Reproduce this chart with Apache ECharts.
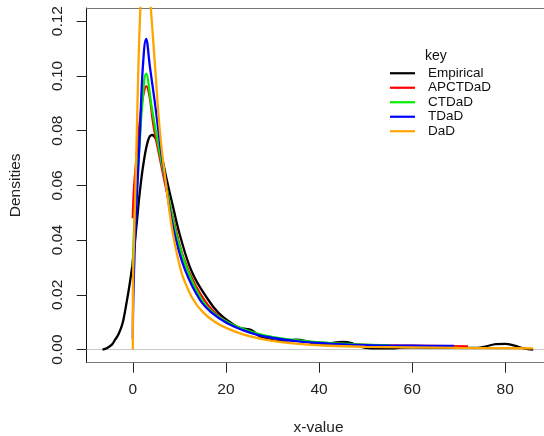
<!DOCTYPE html>
<html><head><meta charset="utf-8">
<script src="https://cdn.jsdelivr.net/npm/echarts@6/dist/echarts.min.js"></script>
<style>html,body{margin:0;padding:0;background:#fff}#c{width:544px;height:436px}</style>
</head><body><div id="c"></div>
<script>
const seriesNames = ['Empirical','APCTDaD','CTDaD','TDaD','DaD'];
const seriesColors = ['#000000','#ff0000','#00ee00','#0000ff','#ffa500'];
const xTicks = [0,20,40,60,80];
const yTicks = [0,0.02,0.04,0.06,0.08,0.10,0.12];

const empX = [-6.5,-5.5,-4.5,-3.8,-3.1,-2.4,-2.0,-1.3,-0.8,-0.2,0.2,0.9,1.5,2.3,3.3,4.1,5.1,6.2,7.3,8.6,10.2,12.8,16.2,18.4,20.9,22.8,24.6,25.8,27.3,29,31,33,35,37,39,41,43,45,47,48.5,50,53,55.5,57.5,60,70,74,76,78,80,82,84,86];
const empY = [0,0.0006,0.0018,0.0036,0.0055,0.0085,0.011,0.0175,0.0225,0.0295,0.0355,0.047,0.0575,0.068,0.0765,0.0784,0.0765,0.0705,0.062,0.0525,0.0413,0.028,0.0182,0.0134,0.0100,0.0080,0.0075,0.0068,0.0048,0.0038,0.0032,0.0033,0.0036,0.0032,0.0022,0.002,0.0024,0.0028,0.0024,0.0012,0.0006,0.0004,0.0004,0.0007,0.0008,0.0006,0.0006,0.0012,0.002,0.0021,0.0014,0.0004,0];

const apcX = [0,0.28,0.86,1.57,2.2,2.9,3.6,4.43,5.86,7.2,8.8,10.9,13.6,17,20.5,23.5,27,30,35,42,50,60,72];
const apcY = [0.048,0.0595,0.071,0.0845,0.0925,0.0962,0.0925,0.082,0.0695,0.0585,0.047,0.0335,0.023,0.0145,0.0098,0.0073,0.0054,0.0044,0.0033,0.0023,0.0017,0.0014,0.0012];

const ctX = [0,0.3,0.8,1.43,1.93,2.86,4.07,5.5,7.0,8.15,9.45,11.7,14.8,17.3,20.9,24,28,33,42,50,55];
const ctY = [0.03,0.045,0.060,0.074,0.0875,0.1008,0.0885,0.0745,0.0615,0.0515,0.0413,0.0292,0.0182,0.0134,0.0095,0.0073,0.0053,0.0038,0.0024,0.0018,0.0016];

const tX = [0,0.1,0.4,0.8,1.2,1.57,2.15,2.86,3.7,4.8,5.86,7.0,8.0,9.1,11.2,14.4,17.0,20.2,23.5,27,30,35,42,50,60,69];
const tY = [0.004,0.018,0.036,0.053,0.067,0.081,0.103,0.1135,0.103,0.0895,0.0752,0.0617,0.0507,0.0413,0.0292,0.0182,0.0134,0.0097,0.0072,0.0053,0.0043,0.0031,0.0022,0.0016,0.0014,0.0013];

const dX = [0,0.03,0.3,0.5,0.86,1.2,1.64,2.1,2.7,3.3,3.86,4.8,5.86,7.3,8.6,10.16,11.0,13.0,15.2,18.0,20.9,25.2,30,35,42,50,60,70,80,86];
const dY = [0,0.022,0.042,0.055,0.079,0.103,0.125,0.137,0.14,0.135,0.125,0.103,0.079,0.058,0.0425,0.030,0.0255,0.0182,0.0134,0.0097,0.0073,0.0048,0.0032,0.0022,0.0014,0.001,0.0008,0.0006,0.0005,0.0004];

const allX = [empX, apcX, ctX, tX, dX];
const allY = [empY, apcY, ctY, tY, dY];

const FONT = "'Liberation Sans', Arial, sans-serif";
const chart = echarts.init(document.getElementById('c'), null, {renderer:'canvas'});

const series = seriesNames.map((name, i) => ({
  name, type: 'line', symbol: 'none', smooth: 0.4,
  data: allX[i].map((x, j) => [x, allY[i][j]]),
  lineStyle: {color: seriesColors[i], width: 2.3},
  itemStyle: {color: seriesColors[i]},
  z: 3 + i,
  markLine: i === 0 ? {silent: true, symbol: 'none', label: {show: false},
    lineStyle: {color: '#c8c8c8', type: 'solid', width: 1.2}, z: 1,
    data: [{yAxis: 0}]} : undefined
}));

chart.setOption({
  animation: false,
  backgroundColor: '#fff',
  title: {text: 'key', left: 425, top: 49, padding: 0,
    textStyle: {fontFamily: FONT, fontSize: 14, fontWeight: 'normal', color: '#111'}},
  legend: {
    orient: 'vertical', left: 390, top: 66, itemGap: 0, padding: 0,
    icon: 'rect', itemWidth: 25, itemHeight: 2.2,
    data: seriesNames,
    textStyle: {fontFamily: FONT, fontSize: 13.5, color: '#111', lineHeight: 14.5, padding: [0,0,0,8]}
  },
  grid: {left: 86.7, top: 8, width: 463.7, height: 354.7, outerBoundsMode: 'none', containLabel: false},
  xAxis: [{
    type: 'value', min: -9.9, max: 89.7, position: 'bottom',
    name: 'x-value', nameLocation: 'middle', nameGap: 57,
    nameTextStyle: {fontFamily: FONT, fontSize: 15.5, color: '#222'},
    axisLine: {show: true, onZero: false, lineStyle: {color: '#777', width: 1}},
    axisTick: {show: true, inside: false, length: 10, customValues: xTicks, lineStyle: {color: '#222'}},
    axisLabel: {show: true, margin: 19, customValues: xTicks, fontFamily: FONT, fontSize: 15.5, color: '#222',
      formatter: v => String(v)},
    splitLine: {show: false}
  }, {
    type: 'value', min: -9.9, max: 89.7, position: 'top',
    axisLine: {show: true, onZero: false, lineStyle: {color: '#777', width: 1}},
    axisTick: {show: false}, axisLabel: {show: false}, splitLine: {show: false}
  }],
  yAxis: {
    type: 'value', min: -0.0048, max: 0.1248,
    name: 'Densities', nameLocation: 'middle', nameGap: 63, nameRotate: 90,
    nameTextStyle: {fontFamily: FONT, fontSize: 15.5, color: '#222'},
    axisLine: {show: true, onZero: false, lineStyle: {color: '#111', width: 1}},
    axisTick: {show: true, inside: false, length: 10, customValues: yTicks, lineStyle: {color: '#222'}},
    axisLabel: {show: true, rotate: 90, margin: 21, customValues: yTicks, fontFamily: FONT, fontSize: 15.5, color: '#222',
      formatter: v => v.toFixed(2)},
    splitLine: {show: false}
  },
  series
});
</script></body></html>
